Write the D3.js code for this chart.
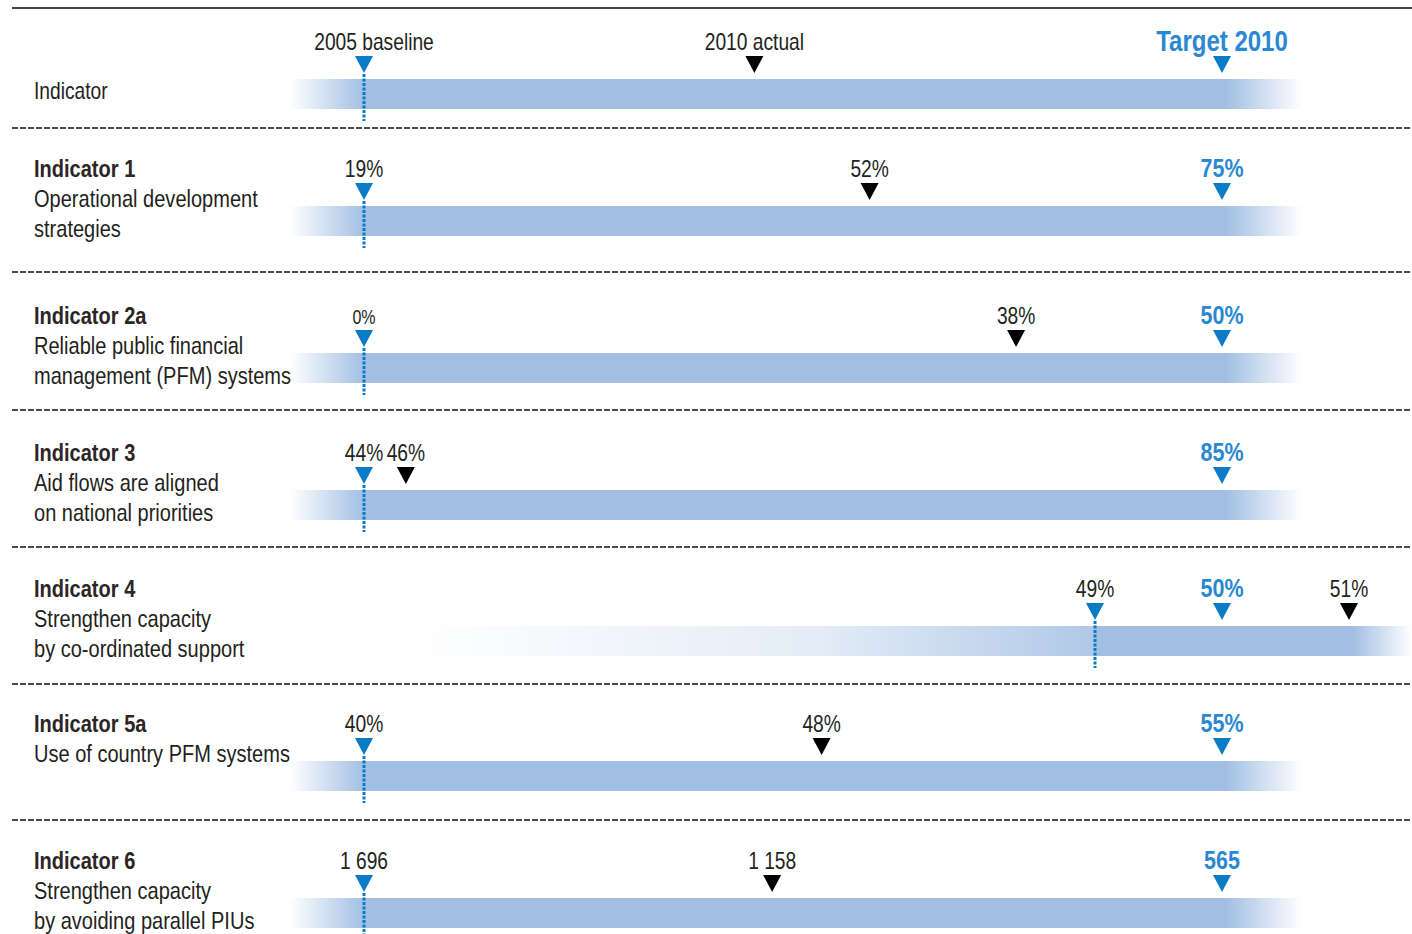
<!DOCTYPE html>
<html>
	<head>
		<meta charset="utf-8">
		<title>Indicators</title>
		<style>
			body { margin: 0; background: #fff; }
			svg { display: block; }
			text { font-family: "Liberation Sans", Arial, sans-serif; fill: #231f20; }
		</style>
	</head>
	<body>
		<svg></svg>
		<script src="https://d3js.org/d3.v7.min.js"></script>
		<script>
			// data
			var indicators = ["Indicator 1", "Indicator 2a", "Indicator 3", "Indicator 4", "Indicator 5a", "Indicator 6"]
			var descriptions = [
				["Operational development", "strategies"],
				["Reliable public financial", "management (PFM) systems"],
				["Aid flows are aligned", "on national priorities"],
				["Strengthen capacity", "by co-ordinated support"],
				["Use of country PFM systems"],
				["Strengthen capacity", "by avoiding parallel PIUs"]
			]
			var baseline2005 = [19, 0, 44, 49, 40, 1696]
			var actual2010 = [52, 38, 46, 51, 48, 1158]
			var target2010 = [75, 50, 85, 50, 55, 565]
			var units = ["%", "%", "%", "%", "%", ""]
			var legendLabels = ["2005 baseline", "2010 actual", "Target 2010"]

			// layout (index 0 = header row, 1..6 = indicators)
			var _width = 1412
			var _height = 934
			var _svg = d3.select("svg").attr("width", _width).attr("height", _height)
			var rowTop = [41, 168, 315, 452, 588, 723, 860]
			var sepY = [128, 272, 410, 547, 684, 820]
			var xBase = [364, 364, 364, 364, 1095, 364, 364]
			var fadeFrom = [290, 290, 290, 290, 410, 290, 290]
			var xTarget = 1222
			var squeeze = 0.8   // condensed look
			var barColor = "#a2bfe3"
			var blue = "#0a7bc6"
			var blueText = "#2a88d2"

			var fmt = d3.formatLocale({ decimal: ".", thousands: " ", grouping: [3], currency: ["", ""] }).format(",")

			var defs = _svg.append("defs")

			// top rule
			_svg.append("line")
				.attr("x1", 12).attr("x2", _width).attr("y1", 8).attr("y2", 8)
				.attr("stroke", "#444").attr("stroke-width", 2)

			// separators
			_svg.selectAll(".sep").data(sepY).enter().append("line")
				.attr("class", "sep")
				.attr("x1", 12).attr("x2", _width)
				.attr("y1", function(d) { return d }).attr("y2", function(d) { return d })
				.attr("stroke", "#111").attr("stroke-width", 1.3)
				.attr("stroke-dasharray", "6,2")

			function txt(x, y, s, opts) {
				opts = opts || {}
				return _svg.append("text")
					.attr("transform", "translate(" + x + "," + y + ") scale(" + (opts.sx || squeeze) + ",1)")
					.attr("text-anchor", opts.anchor || "start")
					.style("font-size", (opts.size || 24) + "px")
					.style("font-weight", opts.bold ? "bold" : "normal")
					.style("fill", opts.color || "#231f20")
					.text(s)
			}

			function drawBar(r, T, xs) {
				var x0 = fadeFrom[r]
				var s0 = d3.min(xs)
				var s1 = d3.max(xs) + 4
				var x1 = Math.min(_width, s1 + 76)
				var id = "g" + r
				var g = defs.append("linearGradient").attr("id", id)
					.attr("gradientUnits", "userSpaceOnUse")
					.attr("x1", x0).attr("x2", x1).attr("y1", 0).attr("y2", 0)
				var stops = [[x0, 0], [s0, 1], [s1, 1], [x1, 0]]
				if (s0 - x0 > 200) stops = [[x0, 0], [x0 + (s0 - x0) * 0.6, 0.3], [s0, 0.85], [s0 + 1, 1], [s1, 1], [x1, 0]]
				stops.forEach(function(s) {
					g.append("stop").attr("offset", (s[0] - x0) / (x1 - x0))
						.attr("stop-color", barColor).attr("stop-opacity", s[1])
				})
				_svg.append("rect")
					.attr("x", x0).attr("width", x1 - x0)
					.attr("y", T + 38).attr("height", 30)
					.attr("fill", "url(#" + id + ")")
			}

			function drawMarker(x, T, color) {
				_svg.append("path")
					.attr("d", "M" + (x - 9) + "," + (T + 15) + "L" + (x + 9) + "," + (T + 15) + "L" + x + "," + (T + 32) + "Z")
					.attr("fill", color)
			}

			function drawBaseLine(x, T) {
				_svg.append("line")
					.attr("x1", x).attr("x2", x)
					.attr("y1", T + 33).attr("y2", T + 80)
					.attr("stroke", blue).attr("stroke-width", 3)
					.attr("stroke-dasharray", "3,1.5")
			}

			// header / legend row
			var T0 = rowTop[0]
			var legendX = d3.scaleLinear().domain([0, 1]).range([xBase[0], xTarget])
			var legendPos = [0, 0.455, 1]
			drawBar(0, T0, legendPos.map(legendX))
			drawBaseLine(legendX(0), T0)
			drawMarker(legendX(0), T0, blue)
			drawMarker(legendX(legendPos[1]), T0, "#000")
			drawMarker(legendX(1), T0, blue)
			txt(legendX(0) + 10, T0 + 9, legendLabels[0], { anchor: "middle" })
			txt(legendX(legendPos[1]), T0 + 9, legendLabels[1], { anchor: "middle" })
			txt(legendX(1), T0 + 10, legendLabels[2], { anchor: "middle", bold: true, size: 30, sx: 0.8, color: blueText })
			txt(34, T0 + 58, "Indicator")

			// indicator rows
			indicators.forEach(function(name, i) {
				var r = i + 1
				var T = rowTop[r]
				var x = d3.scaleLinear().domain([baseline2005[i], target2010[i]]).range([xBase[r], xTarget])
				var xb = x(baseline2005[i]), xa = x(actual2010[i]), xt = x(target2010[i])
				drawBar(r, T, [xb, xa, xt])
				drawBaseLine(xb, T)
				drawMarker(xb, T, blue)
				drawMarker(xa, T, "#000")
				drawMarker(xt, T, blue)
				txt(xb, T + 9, fmt(baseline2005[i]) + units[i], { anchor: "middle", size: baseline2005[i] === 0 ? 20 : 24 })
				txt(xa, T + 9, fmt(actual2010[i]) + units[i], { anchor: "middle" })
				txt(xt, T + 9, fmt(target2010[i]) + units[i], { anchor: "middle", bold: true, size: 25, sx: 0.86, color: blueText })

				txt(34, T + 9, name, { bold: true, sx: 0.835, color: "#2b2526" })
				descriptions[i].forEach(function(line, k) {
					txt(34, T + 39 + k * 30, line, { sx: 0.835 })
				})
			})
		</script>
	</body>
</html>
